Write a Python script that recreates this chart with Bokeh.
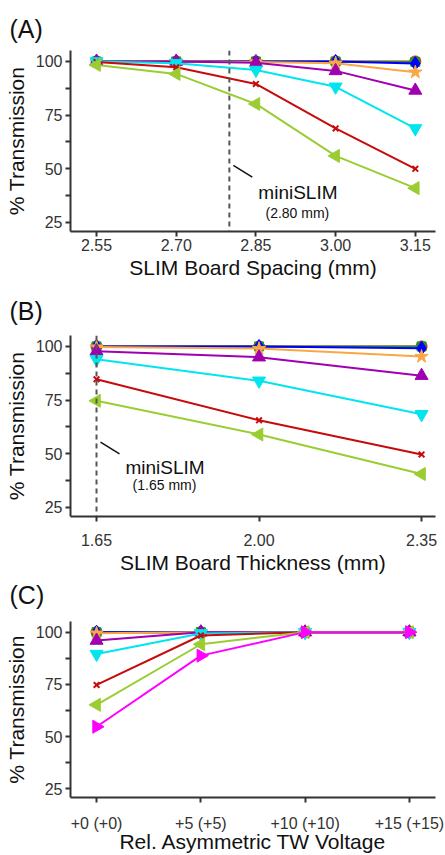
from bokeh.plotting import figure
from bokeh.layouts import column
from bokeh.models import Span, FixedTicker, NumeralTickFormatter, Label, Title
from bokeh.embed import file_html
from bokeh.resources import INLINE
import math

FONT = "Liberation Sans"

# ---------------- data ----------------
spacing_mm = [2.55, 2.70, 2.85, 3.00, 3.15]
A_circle = [100, 100, 100, 100, 100]
A_square = [100, 100, 100, 100, 99.8]
A_diamond = [100, 100, 100, 100, 99.0]
A_star = [100, 100, 99.8, 99.2, 95.0]
A_tri_up = [100, 100, 99.4, 95.6, 86.5]
A_tri_down = [100, 99.2, 96.0, 88.2, 68.8]
A_cross = [99.7, 97.3, 89.5, 68.8, 50.0]
A_tri_left = [98.4, 94.2, 80.2, 56.0, 41.0]
minislim_spacing = 2.80

thickness_mm = [1.65, 2.00, 2.35]
B_circle = [100, 100, 100]
B_square = [100, 100, 100]
B_diamond = [100, 100, 99.2]
B_star = [99.7, 99.0, 95.3]
B_tri_up = [97.8, 95.0, 86.4]
B_tri_down = [94.0, 84.0, 68.4]
B_cross = [84.7, 65.6, 49.7]
B_tri_left = [74.7, 59.0, 40.6]
minislim_thickness = 1.65

voltage_labels = ["+0 (+0)", "+5 (+5)", "+10 (+10)", "+15 (+15)"]
C_circle = [100, 100, 100, 100]
C_square = [100, 100, 100, 100]
C_diamond = [100, 100, 100, 100]
C_star = [99.5, 100, 100, 100]
C_tri_up = [96.0, 100, 100, 100]
C_tri_down = [89.5, 99.4, 100, 100]
C_cross = [74.7, 98.4, 100, 100]
C_tri_left = [65.2, 94.2, 100, 100]
C_tri_right = [54.7, 88.75, 100, 100]

y_ticks = [25, 50, 75, 100]
y_minor = [37.5, 62.5, 87.5]
Y_RANGE = (20.8, 105.1)

# ---------------- styles ----------------
STYLE = {
    "circle": ("#e82222", "circle", 11, 0),
    "square": ("#1f9a1f", "square", 9, 0),
    "diamond": ("#0000ff", "diamond", 14, 0),
    "star": ("#f9a845", "star", 14, 0),
    "tri_up": ("#a000b0", "triangle", 13, 0),
    "tri_down": ("#00e5ee", "inverted_triangle", 13, 0),
    "cross": ("#c80a0a", "x", 8, 0),
    "tri_left": ("#9acd32", "triangle", 13, math.pi / 2),
    "tri_right": ("#ff00ff", "triangle", 13, -math.pi / 2),
}

AXIS_COL = "#333333"


def make_panel(label, h, top, x_range, ticks, axis_title, gap_px,
               label_standoff, axis_label_standoff):
    p = figure(width=445, height=h, x_range=x_range, y_range=Y_RANGE,
               output_backend="svg", toolbar_location=None,
               min_border_left=70, min_border_right=10, min_border_top=top,
               min_border_bottom=h - top - 181)
    p.outline_line_color = None
    p.grid.visible = False
    p.title.text = label
    p.title.text_font = FONT
    p.title.text_font_size = "25px"
    p.title.text_font_style = "normal"
    p.title.text_color = "#111111"
    p.title.align = "left"
    p.title.offset = -61
    p.title.standoff = 0
    # invisible spacer between the panel letter and the frame
    p.add_layout(Title(text=" ", text_font_size="1px", standoff=gap_px), "above")

    for ax in (p.xaxis[0], p.yaxis[0]):
        ax.axis_line_color = AXIS_COL
        ax.axis_line_width = 2
        ax.major_tick_line_color = AXIS_COL
        ax.major_tick_line_width = 2
        ax.minor_tick_line_color = AXIS_COL
        ax.minor_tick_line_width = 2
        ax.major_tick_in = 0
        ax.major_tick_out = 5
        ax.minor_tick_in = 0
        ax.major_label_text_font = FONT
        ax.major_label_text_font_size = "16px"
        ax.major_label_text_color = "#333333"
        ax.axis_label_text_font = FONT
        ax.axis_label_text_font_size = "21px"
        ax.axis_label_text_font_style = "normal"
        ax.axis_label_text_color = "#111111"

    p.yaxis[0].ticker = FixedTicker(ticks=y_ticks, minor_ticks=y_minor)
    p.yaxis[0].minor_tick_out = 5
    p.yaxis[0].major_label_standoff = 3
    p.yaxis[0].axis_label = "% Transmission"
    p.yaxis[0].axis_label_standoff = 5

    p.xaxis[0].ticker = FixedTicker(ticks=ticks)
    p.xaxis[0].minor_tick_out = 0
    p.xaxis[0].major_label_standoff = label_standoff
    p.xaxis[0].axis_label = axis_title
    p.xaxis[0].axis_label_standoff = axis_label_standoff
    return p


def add_series(p, x, y, key):
    col, marker, size, angle = STYLE[key]
    p.line(x, y, line_color=col, line_width=2)
    if marker == "x":
        p.scatter(x, y, marker="x", size=size, line_color=col, line_width=2)
    else:
        p.scatter(x, y, marker=marker, size=size, fill_color=col,
                  line_color=col, angle=angle)


def add_minislim(p, xloc, px_per_unit, seg_y, name_y, mm_y, mm_text):
    p.add_layout(Span(location=xloc, dimension="height", line_color="#555555",
                      line_width=2, line_dash="5 4"))
    p.segment(x0=[xloc + 4 / px_per_unit], y0=[seg_y[0]],
              x1=[xloc + 23 / px_per_unit], y1=[seg_y[1]],
              line_color="#111111", line_width=1.5)
    p.add_layout(Label(x=xloc, y=name_y, x_offset=29, text="miniSLIM",
                       text_font=FONT, text_font_size="19px",
                       text_color="#111111", text_baseline="alphabetic"))
    p.add_layout(Label(x=xloc, y=mm_y, x_offset=68, text=mm_text,
                       text_font=FONT, text_font_size="14px",
                       text_color="#111111", text_baseline="alphabetic",
                       text_align="center"))


# ---------------- panel A ----------------
pA = make_panel("(A)", 283, 50, (2.501, 3.188), spacing_mm,
                "SLIM Board Spacing (mm)", 5, 2, 2)
pA.xaxis[0].formatter = NumeralTickFormatter(format="0.00")
add_minislim(pA, minislim_spacing, 533.3, (51.6, 46.1), 39.0, 29.2, "(2.80 mm)")
for key, ys in [("circle", A_circle), ("square", A_square), ("diamond", A_diamond),
                ("star", A_star), ("tri_up", A_tri_up), ("tri_down", A_tri_down),
                ("cross", A_cross), ("tri_left", A_tri_left)]:
    add_series(pA, spacing_mm, ys, key)

# ---------------- panel B ----------------
pB = make_panel("(B)", 295, 52, (1.594, 2.380), thickness_mm,
                "SLIM Board Thickness (mm)", 8, 12, 2)
pB.xaxis[0].formatter = NumeralTickFormatter(format="0.00")
add_minislim(pB, minislim_thickness, 464.3, (55.4, 50.0), 43.8, 35.4, "(1.65 mm)")
for key, ys in [("circle", B_circle), ("square", B_square), ("diamond", B_diamond),
                ("star", B_star), ("tri_up", B_tri_up), ("tri_down", B_tri_down),
                ("cross", B_cross), ("tri_left", B_tri_left)]:
    add_series(pB, thickness_mm, ys, key)

# ---------------- panel C ----------------
xc = list(range(len(voltage_labels)))
pC = make_panel("(C)", 277, 42, (-0.25, 3.25), xc,
                "Rel. Asymmetric TW Voltage", 10, 12, -5)
pC.xaxis[0].major_label_overrides = {i: lab for i, lab in enumerate(voltage_labels)}
for key, ys in [("circle", C_circle), ("square", C_square), ("diamond", C_diamond),
                ("star", C_star), ("tri_up", C_tri_up), ("tri_down", C_tri_down),
                ("cross", C_cross), ("tri_left", C_tri_left), ("tri_right", C_tri_right)]:
    add_series(pC, xc, ys, key)

layout = column(pA, pB, pC, spacing=0)
open("out.html", "w").write(file_html(layout, INLINE))
